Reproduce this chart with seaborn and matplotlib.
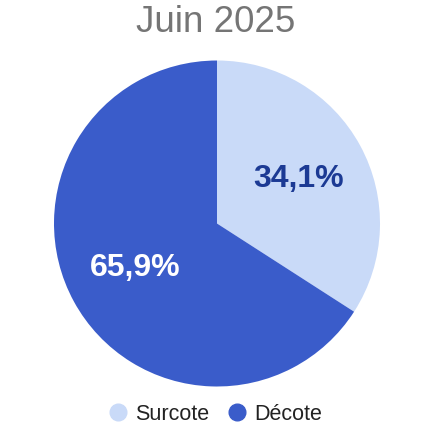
import matplotlib
matplotlib.use("Agg")
import matplotlib.pyplot as plt
from matplotlib.lines import Line2D
import seaborn as sns

# données
labels = ["Surcote", "Décote"]
values = [34.1, 65.9]
colors = ["#c9daf8", "#3a5cca"]
text_colors = ["#1c3a94", "#ffffff"]
title = "Juin 2025"

sns.set_theme(style="white")
plt.rcParams["font.family"] = ["Liberation Sans", "DejaVu Sans"]

W, H = 444, 432
fig = plt.figure(figsize=(W / 100, H / 100), dpi=100)

cx, cy, r = 217, 223.5, 163
ax = fig.add_axes([(cx - r) / W, (H - cy - r) / H, 2 * r / W, 2 * r / H])

wedges, texts, autotexts = ax.pie(
    values, colors=colors, startangle=90, counterclock=False,
    autopct=lambda p: f"{p:.1f}%".replace(".", ","),
    pctdistance=0.57, radius=1,
    wedgeprops=dict(linewidth=0),
)
for t, c in zip(autotexts, text_colors):
    t.set_color(c)
    t.set_fontsize(23)
    t.set_fontweight("bold")
ax.set_xlim(-1, 1)
ax.set_ylim(-1, 1)
ax.set_aspect("equal")
ax.axis("off")

fig.text(216 / W, 1 - 23 / H, title, ha="center", va="center",
         fontsize=26.5, color="#757575")

handles = [Line2D([], [], marker="o", linestyle="", markersize=12,
                  markerfacecolor=c, markeredgecolor=c) for c in colors]
fig.legend(handles, labels, loc="center", bbox_to_anchor=(0.484, 18 / H),
           ncol=2, frameon=False, fontsize=15.5, handletextpad=0.3,
           columnspacing=0.8, handlelength=1.0, labelcolor="#222222")

fig.savefig("out.png", dpi=100)
